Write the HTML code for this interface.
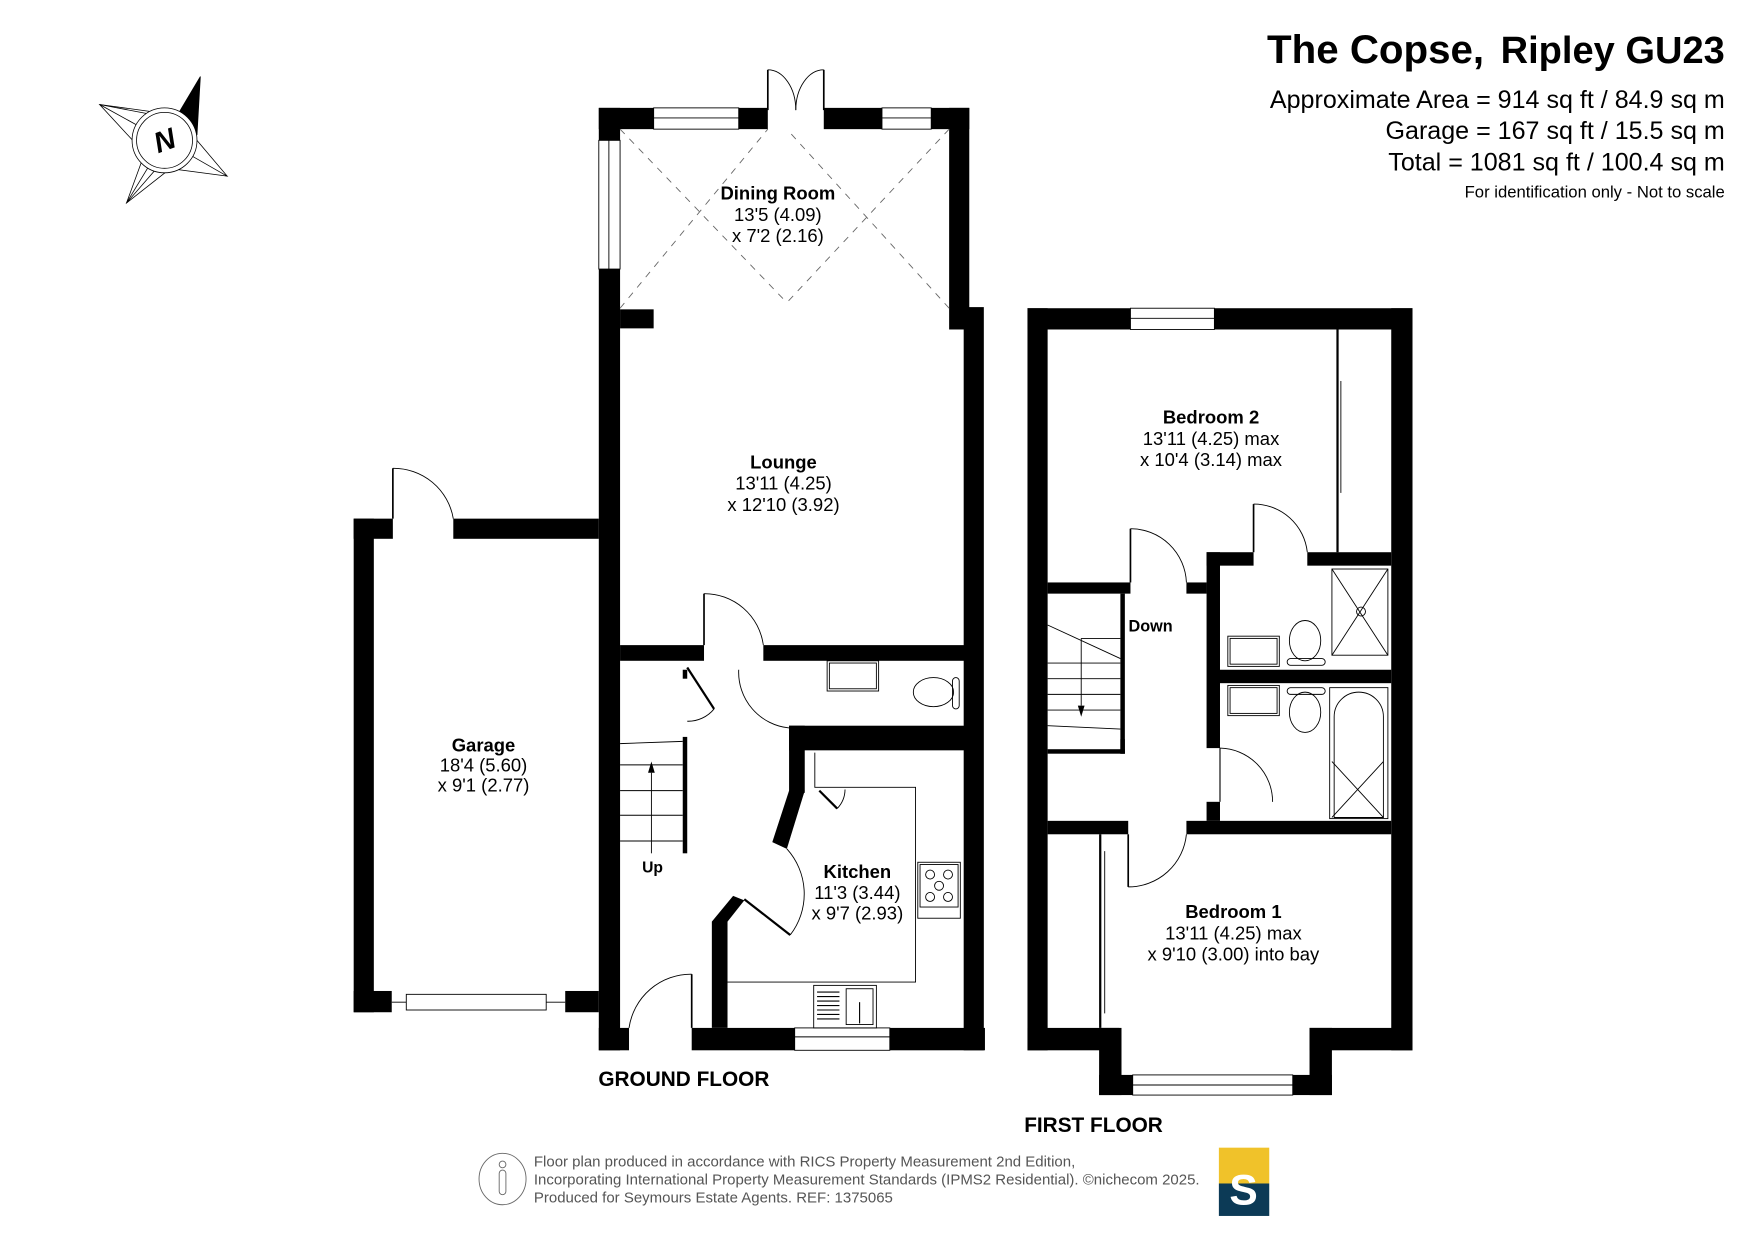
<!DOCTYPE html>
<html><head><meta charset="utf-8"><style>
html,body{margin:0;padding:0;background:#fff}
svg{display:block}
text{font-family:"Liberation Sans",Arial,sans-serif;fill:#000}
</style></head><body>
<svg width="1755" height="1241" viewBox="0 0 1568 1108" xmlns="http://www.w3.org/2000/svg">
<rect width="1568" height="1108" fill="#fff"/>
<!-- compass -->
<g stroke="#000" stroke-width="0.7" fill="#fff">
<polygon points="89,93 140,100 147,125 125,132"/>
<polygon points="89,93 152,105 147,125"/>
<polygon points="113,181 128,140 147,125 155,148"/>
<polygon points="203,157 160,145 147,125 170,118"/>
<polygon points="113,181 140,150 147,125"/>
<polygon points="203,157 150,150 147,125"/>
<polygon points="179,68 176,120 147,125 160,100" fill="#000"/>
<circle cx="147" cy="125" r="29"/>
<circle cx="147" cy="125" r="25"/>
</g>
<text x="147" y="134" font-size="26" font-weight="bold" font-style="italic" text-anchor="middle" transform="rotate(-20 147 125)">N</text>
<!-- header -->
<text x="1326" y="56" font-size="36" font-weight="bold" text-anchor="end">The Copse,</text>
<text x="1541" y="56" font-size="34" font-weight="bold" text-anchor="end">Ripley GU23</text>
<text x="1541" y="96" font-size="22.4" text-anchor="end">Approximate Area = 914 sq ft / 84.9 sq m</text>
<text x="1541" y="124" font-size="22.4" text-anchor="end">Garage = 167 sq ft / 15.5 sq m</text>
<text x="1541" y="152" font-size="22.4" text-anchor="end">Total = 1081 sq ft / 100.4 sq m</text>
<text x="1541" y="176" font-size="14.9" text-anchor="end">For identification only - Not to scale</text>

<!-- GROUND FLOOR walls -->
<g fill="#000">
<rect x="535" y="96" width="151" height="19"/>
<rect x="736" y="96" width="130" height="19"/>
<rect x="535" y="96" width="19" height="842"/>
<rect x="848" y="96" width="18" height="198"/>
<rect x="861" y="274" width="18" height="664"/>
<rect x="554" y="276" width="30" height="17"/>
<rect x="554" y="576" width="75" height="14"/>
<rect x="682" y="576" width="180" height="14"/>
<rect x="316" y="463" width="18" height="441"/>
<rect x="316" y="463" width="35" height="18"/>
<rect x="405" y="463" width="130" height="18"/>
<rect x="316" y="885" width="34" height="19"/>
<rect x="505" y="885" width="30" height="19"/>
<rect x="705" y="648" width="157" height="22"/>
<rect x="705" y="648" width="14" height="60"/>
<polygon points="705,706 719,706 703,758 690,752"/>
<polygon points="655,800 665,804 650,823 650,918 636,918 636,823"/>
<rect x="535" y="918" width="27" height="20"/>
<rect x="618" y="918" width="262" height="20"/>
<rect x="610" y="658" width="4" height="104"/>
<rect x="610" y="598" width="4" height="8"/>
</g>
<g fill="#fff" stroke="#000" stroke-width="0.8">
<rect x="584" y="96" width="76" height="19"/><line x1="584" y1="105" x2="660" y2="105"/>
<rect x="788" y="96" width="44" height="19"/><line x1="788" y1="105" x2="832" y2="105"/>
<rect x="535" y="125" width="19" height="115"/><line x1="544" y1="125" x2="544" y2="240"/>
<rect x="710" y="918" width="85" height="20"/><line x1="710" y1="926" x2="795" y2="926"/>
<rect x="363" y="888" width="125" height="14"/>
<line x1="350" y1="895" x2="363" y2="895"/><line x1="488" y1="895" x2="505" y2="895"/>
</g>
<g fill="none" stroke="#000" stroke-width="0.8">
<!-- french doors -->
<line x1="686" y1="62" x2="686" y2="98" stroke-width="1.5"/><path d="M686,62 A25,36 0 0 1 711,98"/>
<line x1="736" y1="62" x2="736" y2="98" stroke-width="1.5"/><path d="M736,62 A25,36 0 0 0 711,98"/>
<!-- dashed dining -->
<g stroke-dasharray="6,6" stroke="#666">
<line x1="554" y1="115" x2="703" y2="270"/><line x1="554" y1="275" x2="686" y2="115"/>
<line x1="848" y1="115" x2="703" y2="270"/><line x1="848" y1="275" x2="703" y2="115"/>
</g>
<!-- garage door -->
<line x1="351" y1="418" x2="351" y2="463" stroke-width="1.5"/><path d="M351,418 A54,54 0 0 1 405,463"/>
<!-- lounge door -->
<line x1="629" y1="530" x2="629" y2="576" stroke-width="1.5"/><path d="M629,530 A53,53 0 0 1 682,576"/>
<!-- WC door -->
<path d="M660,598 A50,50 0 0 0 705,650"/>
<!-- cupboard door -->
<line x1="614" y1="596" x2="638" y2="633" stroke-width="2"/><path d="M638,633 A30,30 0 0 1 614,644"/>
<!-- stairs -->
<line x1="554" y1="664" x2="610" y2="662"/>
<line x1="554" y1="683" x2="610" y2="683"/><line x1="554" y1="706" x2="610" y2="706"/>
<line x1="554" y1="728" x2="610" y2="728"/><line x1="554" y1="751" x2="610" y2="751"/>
<line x1="582" y1="762" x2="582" y2="690"/>
<!-- kitchen -->
<path d="M728,672 L728,703 L818,703 L818,877 L650,877"/>
<line x1="732" y1="706" x2="748" y2="722" stroke-width="2"/><path d="M748,722 A25,25 0 0 0 755,705"/>
<line x1="665" y1="803" x2="706" y2="835" stroke-width="2"/><path d="M706,835 A60,60 0 0 0 703,758"/>
<!-- front door -->
<line x1="618" y1="870" x2="618" y2="918" stroke-width="1.5"/><path d="M618,870 A56,56 0 0 0 562,918"/>
<!-- appliances -->
<rect x="739" y="590" width="46" height="27"/><rect x="741" y="592" width="42" height="23"/>
<ellipse cx="834" cy="618" rx="18" ry="13"/><rect x="851" y="605" width="6" height="28" rx="3"/>
<rect x="820" y="770" width="38" height="50"/><rect x="822" y="772" width="34" height="38"/>
<circle cx="831" cy="781" r="4"/><circle cx="847" cy="781" r="4"/><circle cx="839" cy="791" r="4"/><circle cx="831" cy="801" r="4"/><circle cx="847" cy="801" r="4"/>
<rect x="727" y="880" width="56" height="38"/><rect x="756" y="883" width="24" height="32"/>
</g>
<g stroke="#000" stroke-width="1">
<line x1="730" y1="886" x2="750" y2="886"/><line x1="730" y1="890" x2="750" y2="890"/><line x1="730" y1="894" x2="750" y2="894"/><line x1="730" y1="898" x2="750" y2="898"/><line x1="730" y1="902" x2="750" y2="902"/><line x1="730" y1="906" x2="750" y2="906"/><line x1="730" y1="910" x2="750" y2="910"/>
<line x1="768" y1="895" x2="768" y2="914"/>
</g>
<polygon points="579,690 585,690 582,680" fill="#000"/>

<text x="695" y="178" font-size="16.5" font-weight="bold" text-anchor="middle">Dining Room</text>
<text x="695" y="197" font-size="16.5" text-anchor="middle">13'5 (4.09)</text>
<text x="695" y="216" font-size="16.5" text-anchor="middle">x 7'2 (2.16)</text>
<text x="700" y="418" font-size="16.5" font-weight="bold" text-anchor="middle">Lounge</text>
<text x="700" y="437" font-size="16.5" text-anchor="middle">13'11 (4.25)</text>
<text x="700" y="456" font-size="16.5" text-anchor="middle">x 12'10 (3.92)</text>
<text x="432" y="671" font-size="16.5" font-weight="bold" text-anchor="middle">Garage</text>
<text x="432" y="689" font-size="16.5" text-anchor="middle">18'4 (5.60)</text>
<text x="432" y="707" font-size="16.5" text-anchor="middle">x 9'1 (2.77)</text>
<text x="766" y="784" font-size="16.5" font-weight="bold" text-anchor="middle">Kitchen</text>
<text x="766" y="803" font-size="16.5" text-anchor="middle">11'3 (3.44)</text>
<text x="766" y="821" font-size="16.5" text-anchor="middle">x 9'7 (2.93)</text>
<text x="583" y="779" font-size="14" font-weight="bold" text-anchor="middle">Up</text>
<text x="611" y="970" font-size="18.6" font-weight="bold" text-anchor="middle">GROUND FLOOR</text>

<!-- FIRST FLOOR -->
<g fill="#000">
<rect x="918" y="275" width="92" height="19"/>
<rect x="1085" y="275" width="177" height="19"/>
<rect x="918" y="275" width="18" height="663"/>
<rect x="1243" y="275" width="19" height="663"/>
<rect x="918" y="918" width="82" height="20"/>
<rect x="1170" y="918" width="92" height="20"/>
<rect x="982" y="918" width="20" height="60"/>
<rect x="1170" y="918" width="20" height="60"/>
<rect x="982" y="960" width="208" height="18"/>
<rect x="936" y="520" width="74" height="10"/>
<rect x="1060" y="520" width="18" height="10"/>
<rect x="1078" y="493" width="12" height="175"/>
<rect x="1078" y="493" width="42" height="12"/>
<rect x="1168" y="493" width="75" height="12"/>
<rect x="1090" y="598" width="153" height="12"/>
<rect x="1078" y="716" width="12" height="17"/>
<rect x="936" y="733" width="72" height="12"/>
<rect x="1060" y="733" width="183" height="12"/>
<rect x="1001" y="660" width="4" height="13"/>
<rect x="1001" y="530" width="4" height="143"/>
<rect x="936" y="669" width="69" height="4"/>
</g>
<g fill="#fff" stroke="#000" stroke-width="0.8">
<rect x="1010" y="275" width="75" height="19"/><line x1="1010" y1="284" x2="1085" y2="284"/>
<rect x="1012" y="960" width="143" height="18"/><line x1="1012" y1="969" x2="1155" y2="969"/>
</g>
<g fill="none" stroke="#000" stroke-width="0.8">
<line x1="1195" y1="294" x2="1195" y2="493" stroke-width="2"/><line x1="1198" y1="340" x2="1198" y2="440"/>
<line x1="983" y1="745" x2="983" y2="918" stroke-width="2"/><line x1="987" y1="760" x2="987" y2="905"/>
<!-- doors -->
<line x1="1010" y1="472" x2="1010" y2="520" stroke-width="1.5"/><path d="M1010,472 A50,50 0 0 1 1060,520"/>
<line x1="1120" y1="450" x2="1120" y2="493" stroke-width="1.5"/><path d="M1120,450 A48,48 0 0 1 1168,493"/>
<line x1="1090" y1="668" x2="1090" y2="716" stroke-width="1"/><path d="M1090,668 A48,48 0 0 1 1137,716"/>
<line x1="1008" y1="745" x2="1008" y2="792" stroke-width="1.5"/><path d="M1008,792 A52,52 0 0 0 1060,745"/>
<!-- stairs -->
<line x1="936" y1="558" x2="1001" y2="588"/>
<line x1="966" y1="570" x2="1001" y2="570"/>
<line x1="936" y1="592" x2="1001" y2="592"/><line x1="936" y1="606" x2="1001" y2="606"/>
<line x1="936" y1="620" x2="1001" y2="620"/><line x1="936" y1="634" x2="1001" y2="634"/>
<line x1="936" y1="648" x2="1001" y2="651"/>
<line x1="966" y1="570" x2="966" y2="630"/>
<!-- shower -->
<rect x="1190" y="508" width="50" height="77"/><line x1="1190" y1="508" x2="1240" y2="585"/><line x1="1240" y1="508" x2="1190" y2="585"/>
<circle cx="1216" cy="546" r="4"/>
<!-- bath -->
<rect x="1188" y="614" width="52" height="117"/>
<path d="M1192,730 L1192,640 A22,22 0 0 1 1236,640 L1236,730 Z"/>
<line x1="1190" y1="680" x2="1236" y2="730"/><line x1="1236" y1="680" x2="1190" y2="730"/>
<!-- basins / wcs -->
<rect x="1097" y="568" width="46" height="27"/><rect x="1099" y="570" width="42" height="23"/>
<rect x="1097" y="612" width="46" height="27"/><rect x="1099" y="614" width="42" height="23"/>
<ellipse cx="1166" cy="572" rx="14" ry="18"/><rect x="1150" y="588" width="34" height="6" rx="3"/>
<ellipse cx="1166" cy="636" rx="14" ry="18"/><rect x="1150" y="614" width="34" height="6" rx="3"/>
</g>
<polygon points="963,630 969,630 966,640" fill="#000"/>
<text x="1082" y="378" font-size="16.5" font-weight="bold" text-anchor="middle">Bedroom 2</text>
<text x="1082" y="397" font-size="16.5" text-anchor="middle">13'11 (4.25) max</text>
<text x="1082" y="416" font-size="16.5" text-anchor="middle">x 10'4 (3.14) max</text>
<text x="1028" y="564" font-size="14.5" font-weight="bold" text-anchor="middle">Down</text>
<text x="1102" y="820" font-size="16.5" font-weight="bold" text-anchor="middle">Bedroom 1</text>
<text x="1102" y="839" font-size="16.5" text-anchor="middle">13'11 (4.25) max</text>
<text x="1102" y="858" font-size="16.5" text-anchor="middle">x 9'10 (3.00) into bay</text>
<text x="977" y="1011" font-size="18.6" font-weight="bold" text-anchor="middle">FIRST FLOOR</text>

<!-- footer -->
<g fill="none" stroke="#666" stroke-width="0.8">
<ellipse cx="449" cy="1053" rx="21" ry="23"/>
<circle cx="449" cy="1040" r="3"/><rect x="446" y="1045" width="6" height="22" rx="3"/>
</g>
<text x="477" y="1042" font-size="13.4" style="fill:#555">Floor plan produced in accordance with RICS Property Measurement 2nd Edition,</text>
<text x="477" y="1058" font-size="13.4" style="fill:#555">Incorporating International Property Measurement Standards (IPMS2 Residential).  ©nichecom 2025.</text>
<text x="477" y="1074" font-size="13.4" style="fill:#555">Produced for Seymours Estate Agents.   REF: 1375065</text>
<rect x="1089" y="1025" width="45" height="32" fill="#f0c22a"/>
<rect x="1089" y="1057" width="45" height="29" fill="#0c3a56"/>
<text x="1111" y="1076" font-size="38" font-weight="bold" text-anchor="middle" style="fill:#fff">S</text>
</svg>
</body></html>
